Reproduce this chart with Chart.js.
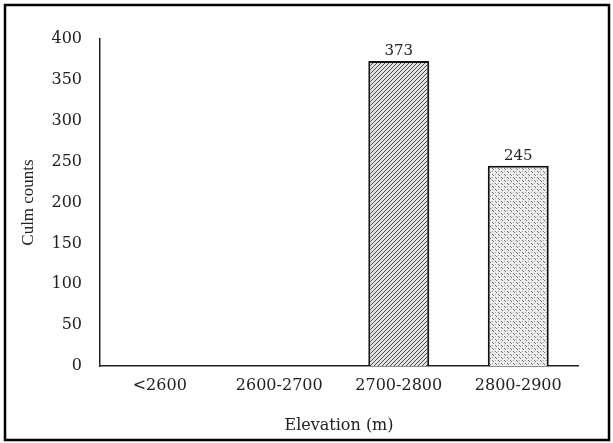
<!DOCTYPE html>
<html>
<head>
<meta charset="utf-8">
<script src="https://cdn.jsdelivr.net/npm/chart.js@4.4.0/dist/chart.umd.min.js"></script>
<style>
  html, body { margin: 0; padding: 0; background: #fff; }
  #wrap { width: 613px; height: 443px; }
</style>
</head>
<body>
<div id="wrap"><canvas id="grafico" width="613" height="443"></canvas></div>
<script>
categorias = ["<2600", "2600-2700", "2700-2800", "2800-2900"]
valores = [0, 0, 373, 245]
ticksY = [0, 50, 100, 150, 200, 250, 300, 350, 400]
tituloX = "Elevation (m)"
tituloY = "Culm counts"

fuente = "'DejaVu Serif', serif"
fuenteY = "'Liberation Serif', 'Times New Roman', serif"
colorTexto = "#222"

// rayado diagonal denso para la barra 2700-2800
function rayado()
{
	var c = document.createElement("canvas");
	c.width = 4; c.height = 4;
	var g = c.getContext("2d");
	g.fillStyle = "#e2e2e2";
	g.fillRect(0, 0, 4, 4);
	g.strokeStyle = "#4a4a4a";
	g.lineWidth = 1;
	g.beginPath();
	g.moveTo(-1, 5); g.lineTo(5, -1);
	g.moveTo(-1, 1); g.lineTo(1, -1);
	g.moveTo(3, 5); g.lineTo(5, 3);
	g.stroke();
	return g.createPattern(c, "repeat");
}

// punteado claro para la barra 2800-2900
function punteado()
{
	var c = document.createElement("canvas");
	c.width = 6; c.height = 6;
	var g = c.getContext("2d");
	g.fillStyle = "#eeeeee";
	g.fillRect(0, 0, 6, 6);
	g.fillStyle = "#6e6e6e";
	g.fillRect(0, 0, 1, 1);
	g.fillRect(1, 1, 1, 1);
	g.fillRect(3, 3, 1, 1);
	g.fillRect(4, 4, 1, 1);
	g.fillStyle = "#a8a8a8";
	g.fillRect(3, 0, 1, 1);
	g.fillRect(0, 3, 1, 1);
	return g.createPattern(c, "repeat");
}

var ctx = document.getElementById("grafico").getContext("2d");
var rellenos = ["#ffffff", "#ffffff", rayado(), punteado()];

var marco = {
	id: "marco",
	afterDraw: function(chart) {
		var g = chart.ctx;
		g.save();
		g.strokeStyle = "#000";
		g.lineWidth = 2.5;
		g.strokeRect(5, 5, 604, 435);
		g.restore();
	}
};

var etiquetas = {
	id: "etiquetas",
	afterDatasetsDraw: function(chart) {
		var g = chart.ctx;
		var meta = chart.getDatasetMeta(0);
		g.save();
		g.font = "15px " + fuente;
		g.fillStyle = colorTexto;
		g.textAlign = "center";
		g.textBaseline = "bottom";
		meta.data.forEach(function(bar, i) {
			if (valores[i] > 0) g.fillText(valores[i], bar.x, bar.y - 2);
		});
		g.restore();
	}
};

new Chart(ctx, {
	type: "bar",
	data: {
		labels: categorias,
		datasets: [{
			data: valores,
			backgroundColor: rellenos,
			borderColor: "#111",
			borderWidth: 2,
			categoryPercentage: 1,
			barPercentage: 0.51
		}]
	},
	plugins: [marco, etiquetas],
	options: {
		responsive: false,
		animation: false,
		plugins: {
			legend: { display: false },
			tooltip: { enabled: false }
		},
		layout: {
			padding: { left: 0, right: 35, top: 39, bottom: 0 }
		},
		scales: {
			x: {
				grid: { display: false, drawTicks: false },
				border: { color: "#222", width: 1.5 },
				ticks: {
					color: colorTexto,
					padding: 10,
					maxRotation: 0,
					font: { family: fuente, size: 16 }
				},
				title: {
					display: true,
					text: tituloX,
					color: colorTexto,
					padding: { top: 0, bottom: 8 },
					font: { family: fuente, size: 16 }
				},
				afterFit: function(scale) { scale.height = 77; }
			},
			y: {
				min: 0,
				max: 400,
				grid: { display: false, drawTicks: false },
				border: { color: "#222", width: 1.5 },
				afterBuildTicks: function(scale) {
					scale.ticks = ticksY.map(function(v) { return { value: v }; });
				},
				ticks: {
					color: colorTexto,
					padding: 18,
					font: { family: fuente, size: 16 }
				},
				title: {
					display: true,
					text: tituloY,
					color: colorTexto,
					padding: { top: 18, bottom: 0 },
					font: { family: fuenteY, size: 17 }
				},
				afterFit: function(scale) { scale.width = 100; }
			}
		}
	}
});
</script>
</body>
</html>
